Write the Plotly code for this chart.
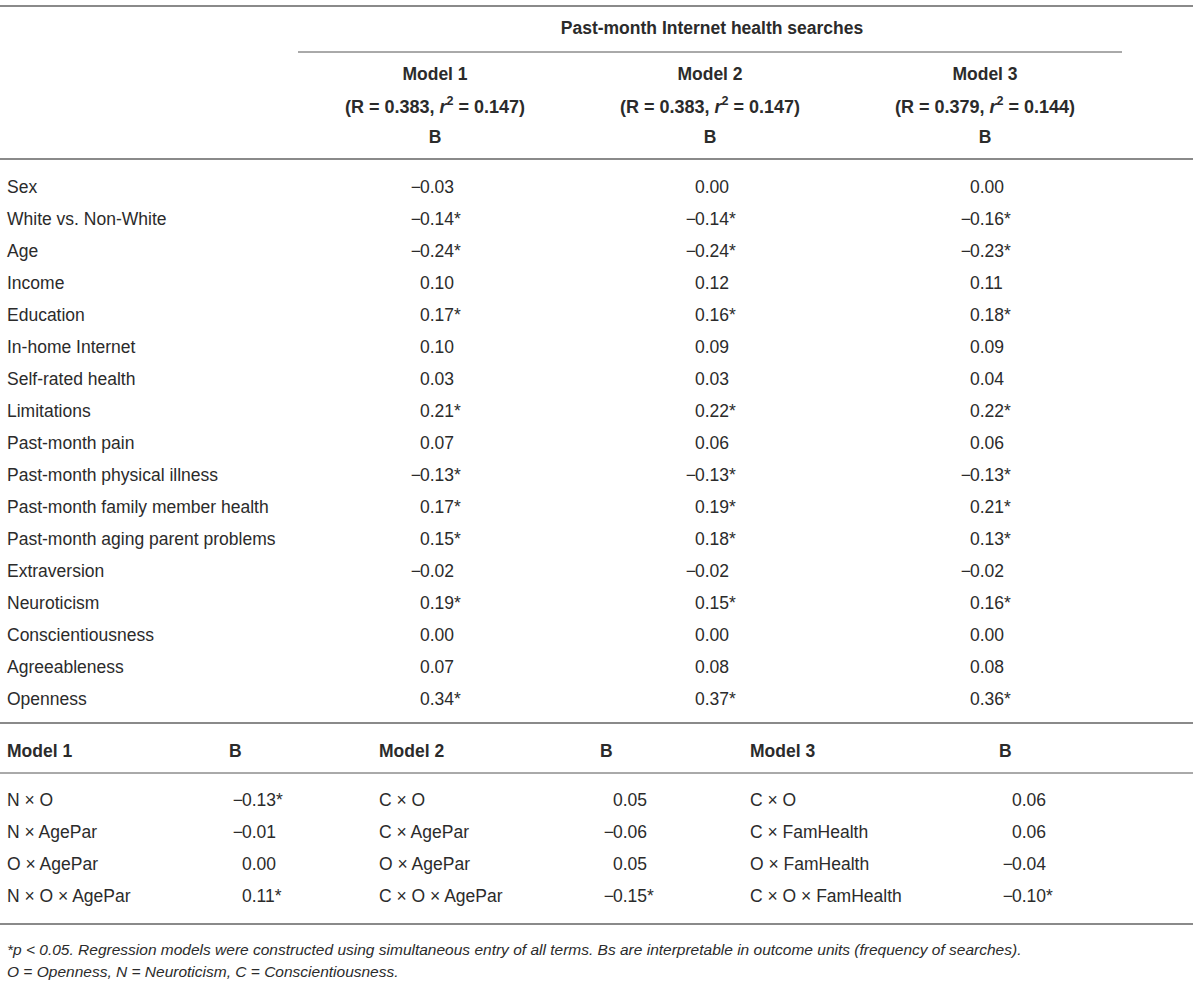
import plotly.graph_objects as go

# main predictors and the B coefficients of the three models
predictors = [
    "Sex", "White vs. Non-White", "Age", "Income", "Education",
    "In-home Internet", "Self-rated health", "Limitations", "Past-month pain",
    "Past-month physical illness", "Past-month family member health",
    "Past-month aging parent problems", "Extraversion", "Neuroticism",
    "Conscientiousness", "Agreeableness", "Openness",
]
model1_b = [-0.03, -0.14, -0.24, 0.10, 0.17, 0.10, 0.03, 0.21, 0.07, -0.13, 0.17, 0.15, -0.02, 0.19, 0.00, 0.07, 0.34]
model1_sig = [0, 1, 1, 0, 1, 0, 0, 1, 0, 1, 1, 1, 0, 1, 0, 0, 1]
model2_b = [0.00, -0.14, -0.24, 0.12, 0.16, 0.09, 0.03, 0.22, 0.06, -0.13, 0.19, 0.18, -0.02, 0.15, 0.00, 0.08, 0.37]
model2_sig = [0, 1, 1, 0, 1, 0, 0, 1, 0, 1, 1, 1, 0, 1, 0, 0, 1]
model3_b = [0.00, -0.16, -0.23, 0.11, 0.18, 0.09, 0.04, 0.22, 0.06, -0.13, 0.21, 0.13, -0.02, 0.16, 0.00, 0.08, 0.36]
model3_sig = [0, 1, 1, 0, 1, 0, 0, 1, 0, 1, 1, 1, 0, 1, 0, 0, 1]

model_titles = ["Model 1", "Model 2", "Model 3"]
model_fits = ["(R = 0.383, <i>r</i><sup>2</sup> = 0.147)",
              "(R = 0.383, <i>r</i><sup>2</sup> = 0.147)",
              "(R = 0.379, <i>r</i><sup>2</sup> = 0.144)"]

# interaction terms
m1_terms = ["N × O", "N × AgePar", "O × AgePar", "N × O × AgePar"]
m1_terms_b = [-0.13, -0.01, 0.00, 0.11]
m1_terms_sig = [1, 0, 0, 1]
m2_terms = ["C × O", "C × AgePar", "O × AgePar", "C × O × AgePar"]
m2_terms_b = [0.05, -0.06, 0.05, -0.15]
m2_terms_sig = [0, 0, 0, 1]
m3_terms = ["C × O", "C × FamHealth", "O × FamHealth", "C × O × FamHealth"]
m3_terms_b = [0.06, 0.06, -0.04, -0.10]
m3_terms_sig = [0, 0, 0, 1]

footnotes = [
    "<i>*p &lt; 0.05. Regression models were constructed using simultaneous entry of all terms. "
    "Bs are interpretable in outcome units (frequency of searches).</i>",
    "<i>O = Openness, N = Neuroticism, C = Conscientiousness.</i>",
]

W, H = 1200, 983
FONT = "Liberation Sans, Arial, Helvetica, sans-serif"
TXT = "#2b2b2b"
BODY = 17.5

fig = go.Figure()


def add_text(xs, ys, texts, pos="middle right", size=BODY, color=TXT):
    fig.add_trace(go.Scatter(
        x=xs, y=ys, text=texts, mode="text", textposition=pos,
        textfont=dict(family=FONT, size=size, color=color),
        hoverinfo="skip", showlegend=False,
    ))


def add_numbers(x_digits, ys, values, sig):
    # minus sign hangs left of the digit column so decimals line up
    digits = ["%.2f%s" % (abs(v), "*" if s else "") for v, s in zip(values, sig)]
    add_text([x_digits] * len(ys), ys, digits, "middle right")
    neg_y = [y for y, v in zip(ys, values) if v < 0]
    if neg_y:
        add_text([x_digits + 1] * len(neg_y), neg_y, ["−"] * len(neg_y), "middle left")


# upper part
row_top, row_h = 189, 32
rows_y = [row_top + i * row_h for i in range(len(predictors))]
col_centers = [435, 710, 985]
digit_x = [420, 695, 970]

add_text([712], [30], ["<b>Past-month Internet health searches</b>"], "middle center")
add_text(col_centers, [76] * 3, ["<b>%s</b>" % t for t in model_titles], "middle center")
add_text(col_centers, [108] * 3, ["<b>%s</b>" % t for t in model_fits], "middle center", size=18)
add_text(col_centers, [139] * 3, ["<b>B</b>"] * 3, "middle center")

add_text([7] * len(predictors), rows_y, predictors)
for dx, vals, sig in zip(digit_x, [model1_b, model2_b, model3_b], [model1_sig, model2_sig, model3_sig]):
    add_numbers(dx, rows_y, vals, sig)

# lower part
low_top = 802
low_y = [low_top + i * row_h for i in range(len(m1_terms))]
term_x = [7, 379, 750]
b_x = [229, 600, 999]
low_digit_x = [242, 613, 1012]

add_text(term_x, [753] * 3, ["<b>%s</b>" % t for t in model_titles])
add_text(b_x, [753] * 3, ["<b>B</b>"] * 3)
for tx, dx, terms, vals, sig in zip(term_x, low_digit_x,
                                     [m1_terms, m2_terms, m3_terms],
                                     [m1_terms_b, m2_terms_b, m3_terms_b],
                                     [m1_terms_sig, m2_terms_sig, m3_terms_sig]):
    add_text([tx] * len(terms), low_y, terms)
    add_numbers(dx, low_y, vals, sig)

add_text([7, 7], [951, 973], footnotes, size=15.5)

# rules
thick = dict(color="#8a8a8a", width=2)
thin = dict(color="#555555", width=1)
rules = [
    (0, 1193, 6, thick),
    (298, 1122, 52, thin),
    (0, 1193, 159, thick),
    (0, 1193, 723, thick),
    (0, 1193, 773, thin),
    (0, 1193, 924, thick),
]
for x0, x1, y, ln in rules:
    fig.add_shape(type="line", x0=x0, x1=x1, y0=y, y1=y, xref="x", yref="y", line=ln)

fig.update_layout(
    width=W, height=H,
    margin=dict(l=0, r=0, t=0, b=0),
    paper_bgcolor="white", plot_bgcolor="white",
    xaxis=dict(range=[0, W], visible=False, fixedrange=True),
    yaxis=dict(range=[H, 0], visible=False, fixedrange=True),
)

fig.write_html("out.html", config={"displayModeBar": False},
               post_script="document.body.style.margin='0';")
